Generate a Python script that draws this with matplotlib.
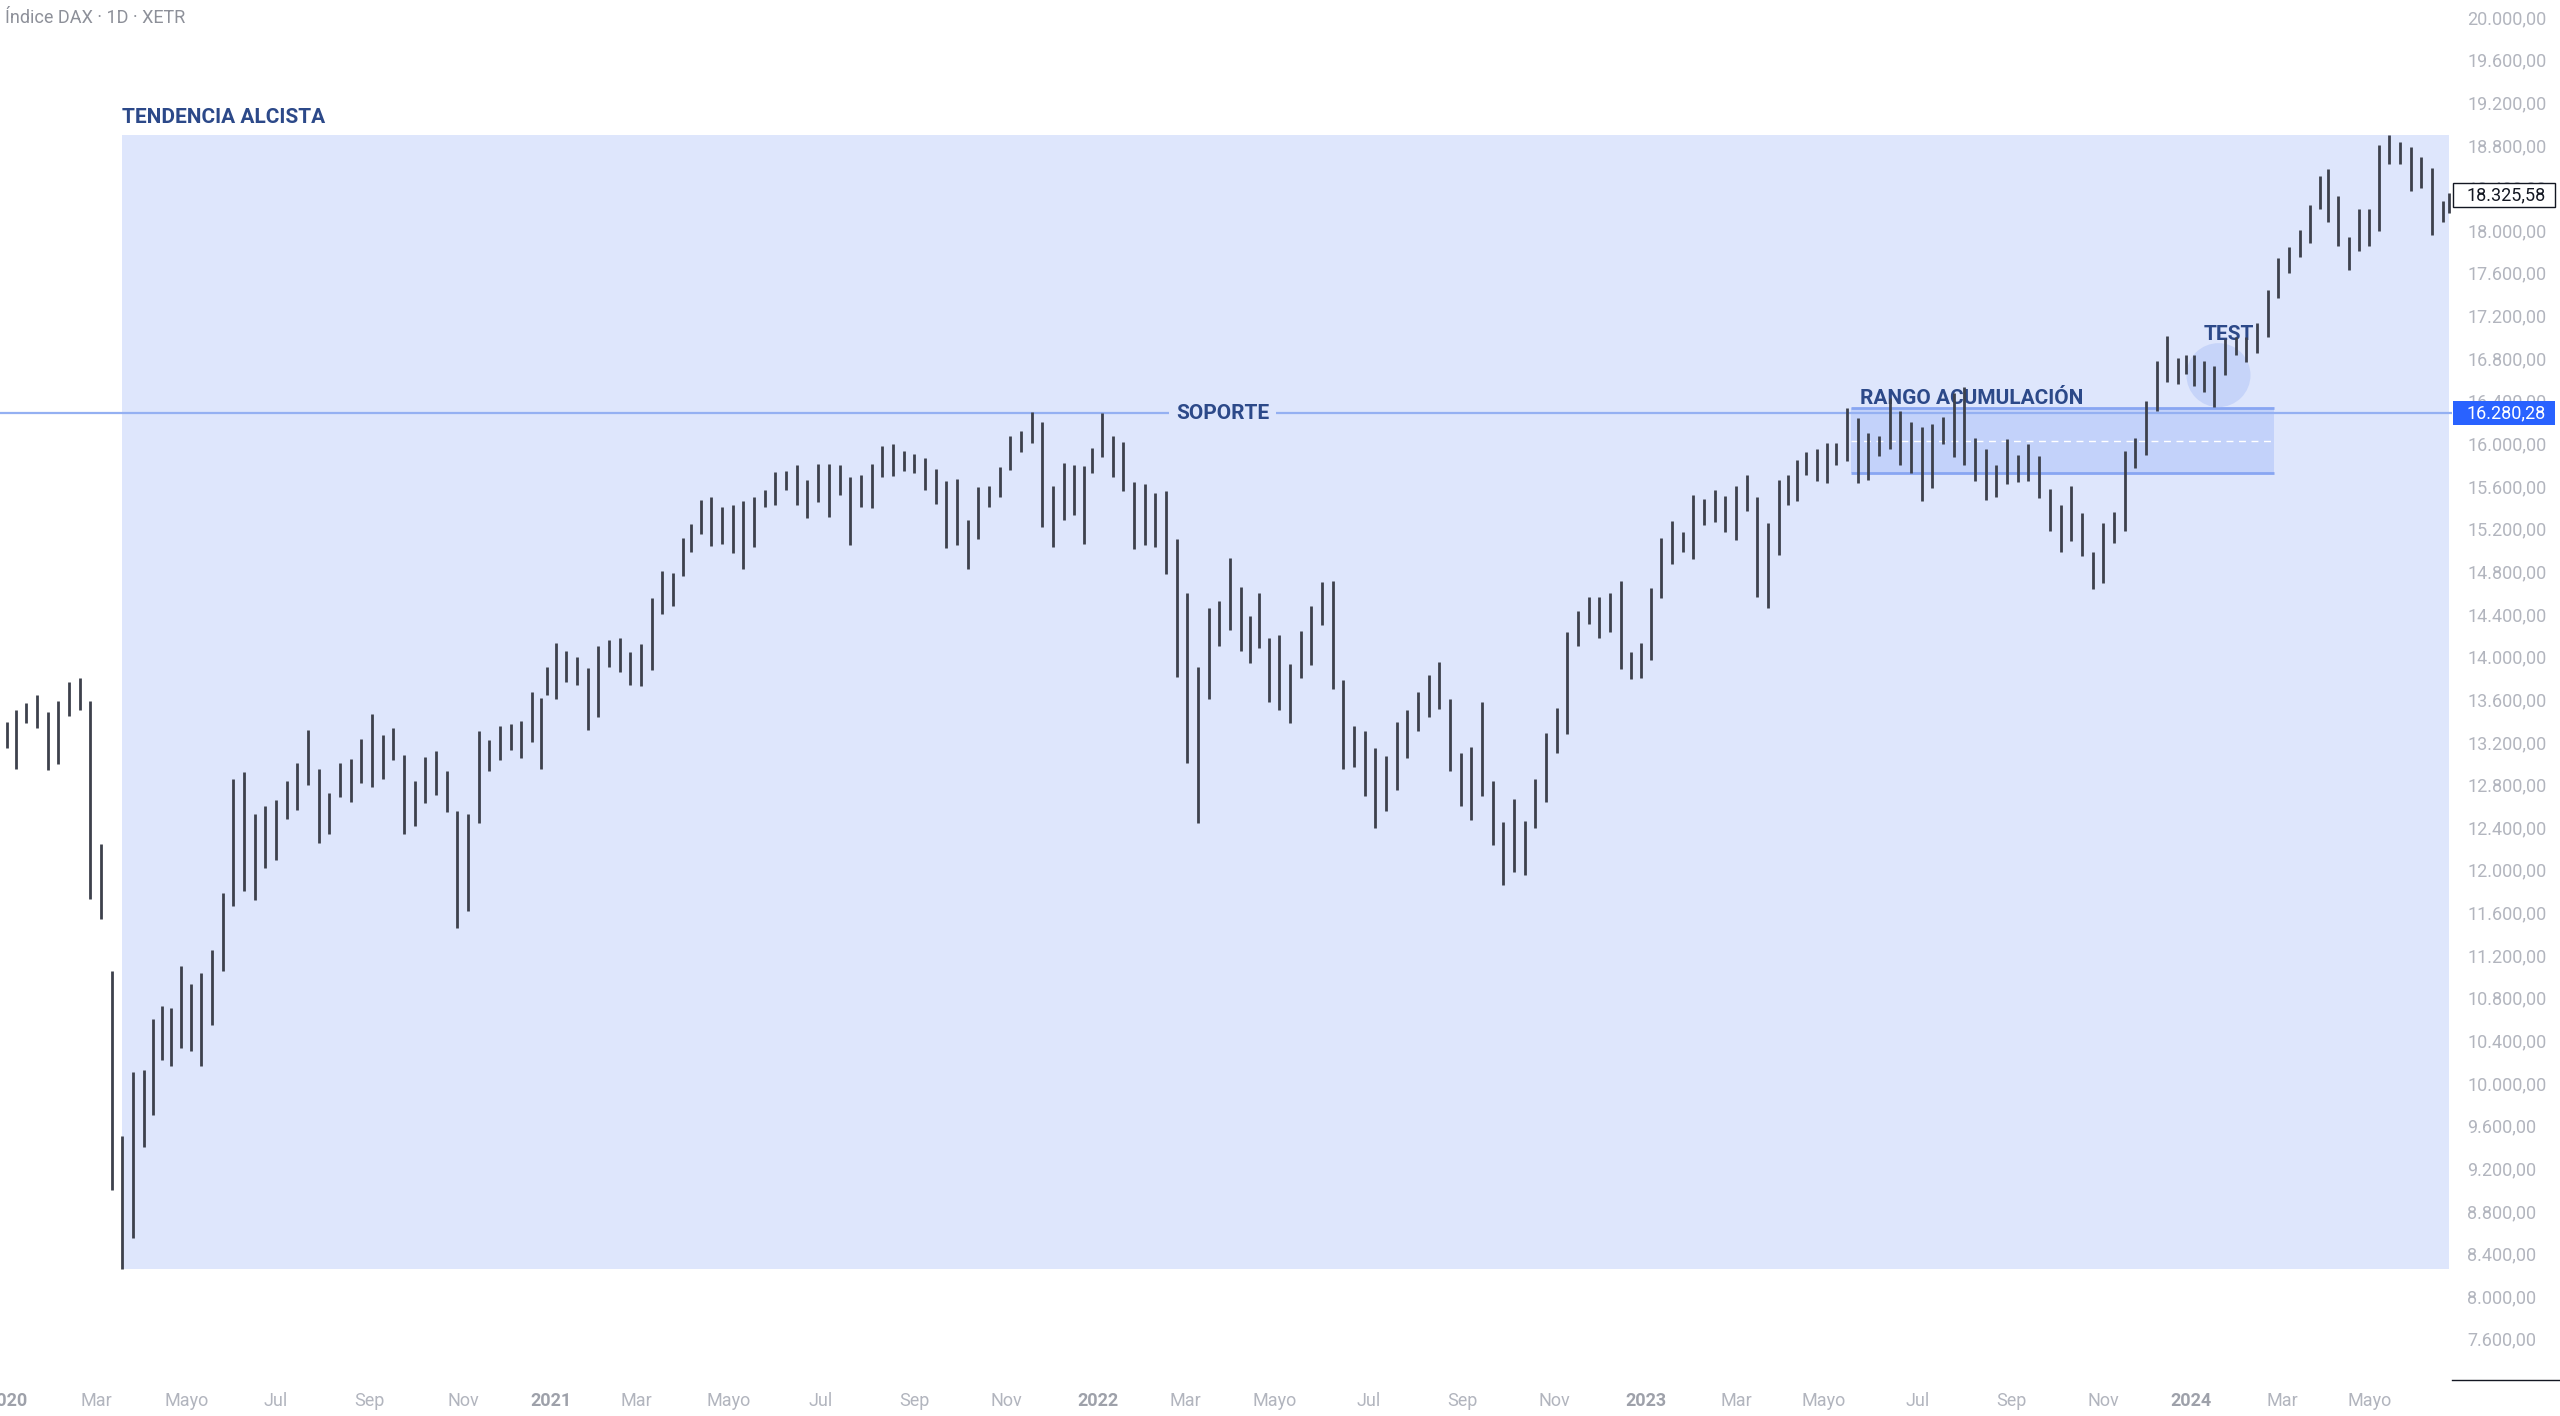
import numpy as np
import pandas as pd
import matplotlib
matplotlib.use("Agg")
import matplotlib.pyplot as plt
import matplotlib.transforms as mtransforms
from matplotlib.patches import Rectangle, Ellipse
from matplotlib.lines import Line2D

plt.rcParams['font.family'] = ['Roboto', 'DejaVu Sans']

# Weekly DAX ranges (week starting on Monday)
FIRST_MONDAY = '2019-12-30'
LAST_DAY = '2024-06-24'

high_2020 = [13390, 13500, 13560, 13640, 13480, 13580, 13760, 13795, 13580, 12240,
             11050, 9500, 10100, 10120, 10600, 10720, 10700, 11100, 10930, 11030,
             11250, 11780, 12850, 12913, 12520, 12600, 12650, 12830, 13000, 13313,
             12950, 12720, 13000, 13040, 13230, 13460, 13260, 13330, 13080, 12830,
             13060, 13110, 12930, 12550, 12520, 13300, 13220, 13350, 13370, 13400,
             13670, 13610, 13900]
low_2020 = [13140, 12950, 13380, 13330, 12940, 12990, 13440, 13500, 11725, 11540,
            9000, 8255, 8550, 9400, 9700, 10220, 10160, 10330, 10300, 10160,
            10540, 11050, 11660, 11800, 11720, 12020, 12090, 12480, 12560, 12800,
            12250, 12340, 12680, 12640, 12810, 12780, 12850, 13030, 12340, 12410,
            12630, 12700, 12540, 11450, 11610, 12440, 12930, 13030, 13120, 13050,
            13200, 12950, 13640]
high_2021 = [14130, 14050, 14000, 13890, 14100, 14160, 14170, 14040, 14120, 14550,
             14800, 14780, 15110, 15240, 15470, 15500, 15400, 15420, 15460, 15500,
             15560, 15730, 15740, 15800, 15660, 15810, 15810, 15800, 15680, 15700,
             15810, 15980, 15990, 15930, 15900, 15860, 15760, 15650, 15670, 15280,
             15590, 15600, 15780, 16070, 16120, 16290, 16200, 15600, 15820, 15800,
             15790, 15960]
low_2021 = [13600, 13760, 13730, 13310, 13430, 13900, 13860, 13730, 13720, 13870,
            14400, 14470, 14760, 14980, 15150, 15040, 15060, 14970, 14820, 15030,
            15400, 15420, 15560, 15420, 15300, 15450, 15310, 15520, 15050, 15400,
            15390, 15680, 15690, 15740, 15720, 15560, 15430, 15020, 15050, 14820,
            15100, 15400, 15500, 15750, 15920, 16000, 15220, 15030, 15280, 15330,
            15060, 15720]
high_2022 = [16285, 16070, 16010, 15640, 15620, 15530, 15550, 15100, 14600, 13900,
             14460, 14520, 14925, 14650, 14380, 14600, 14170, 14200, 13930, 14240,
             14470, 14700, 14710, 13780, 13350, 13300, 13140, 13070, 13390, 13500,
             13670, 13830, 13950, 13600, 13100, 13150, 13570, 12830, 12450, 12660,
             12460, 12850, 13280, 13520, 14230, 14430, 14560, 14560, 14600, 14710,
             14040, 14130]
low_2022 = [15870, 15680, 15550, 15010, 15050, 15030, 14770, 13810, 13000, 12440,
            13600, 14100, 14250, 14050, 13940, 14080, 13570, 13500, 13380, 13800,
            13920, 14300, 13700, 12950, 12960, 12690, 12390, 12550, 12750, 13050,
            13300, 13430, 13510, 12930, 12600, 12470, 12690, 12230, 11862, 11980,
            11950, 12390, 12640, 13100, 13270, 14100, 14310, 14170, 14230, 13880,
            13790, 13800]
high_2023 = [14640, 15110, 15270, 15170, 15520, 15480, 15560, 15510, 15600, 15706,
             15500, 15250, 15660, 15700, 15840, 15920, 15950, 16000, 16000, 16331,
             16240, 16100, 16070, 16427, 16300, 16200, 16150, 16180, 16250, 16470,
             16528, 16050, 15950, 15800, 16040, 15890, 15990, 15880, 15570, 15420,
             15600, 15350, 14980, 15250, 15360, 15930, 16050, 16400, 16770, 17003,
             16800, 16830]
low_2023 = [13970, 14550, 14870, 14980, 14920, 15230, 15260, 15170, 15090, 15370,
            14560, 14458, 14950, 15420, 15460, 15700, 15650, 15630, 15800, 15830,
            15630, 15660, 15880, 15950, 15800, 15720, 15460, 15580, 15990, 15870,
            15800, 15650, 15470, 15500, 15620, 15640, 15650, 15490, 15180, 14980,
            15080, 14940, 14630, 14690, 15070, 15180, 15770, 15890, 16300, 16580,
            16560, 16650]
high_2024 = [16830, 16770, 16730, 16980, 17000, 17000, 17130, 17440, 17740, 17840,
             18000, 18240, 18510, 18570, 18320, 17940, 18200, 18200, 18800, 18893,
             18830, 18780, 18690, 18580, 18270, 18350]
low_2024 = [16540, 16480, 16345, 16640, 16830, 16760, 16850, 17000, 17360, 17600,
            17750, 17880, 18200, 18080, 17850, 17630, 17800, 17850, 17990, 18620,
            18620, 18370, 18400, 17950, 18080, 18160]

week_high = high_2020 + high_2021 + high_2022 + high_2023 + high_2024
week_low = low_2020 + low_2021 + low_2022 + low_2023 + low_2024

# Price levels and drawings
LAST_PRICE = 18325.58
SUPPORT = 16280.28
RANGE_TOP = 16331
RANGE_BOTTOM = 15722
RANGE_START = '2023-05-19'
RANGE_END = '2024-02-26'
TREND_START = '2020-03-18'
TEST_DAY = '2024-01-19'
TEST_PRICE = 16640

# Xetra closing days, the time axis only counts trading days
HOLIDAYS = ['2019-12-24', '2019-12-25', '2019-12-26', '2019-12-31',
            '2020-01-01', '2020-04-10', '2020-04-13', '2020-05-01', '2020-12-24', '2020-12-25', '2020-12-31',
            '2021-01-01', '2021-04-02', '2021-04-05', '2021-12-24', '2021-12-31',
            '2022-04-15', '2022-04-18', '2022-12-26',
            '2023-04-07', '2023-04-10', '2023-05-01', '2023-12-25', '2023-12-26',
            '2024-01-01', '2024-03-29', '2024-04-01', '2024-05-01']
ORIGIN = np.datetime64('2020-01-02', 'D')
MONTH_NAMES = {3: 'Mar', 5: 'Mayo', 7: 'Jul', 9: 'Sep', 11: 'Nov'}

SHADE = '#dee6fc'
TXT = '#2c4989'
GREY = '#b2b5be'
LABEL_SIZE = 15


def tidx(day):
    # trading-day index used as x coordinate
    return float(np.busday_count(ORIGIN, np.datetime64(day, 'D'), holidays=HOLIDAYS))


def es_fmt(v):
    return f"{v:,.2f}".replace(',', 'X').replace('.', ',').replace('X', '.')


def week_positions(n):
    last = np.datetime64(LAST_DAY, 'D')
    xs = []
    for monday in pd.date_range(FIRST_MONDAY, periods=n, freq='W-MON'):
        days = np.arange(np.datetime64(monday.date(), 'D'), np.datetime64(monday.date(), 'D') + 5)
        days = days[(days <= last) & np.is_busday(days, holidays=HOLIDAYS)]
        idx = np.busday_count(ORIGIN, days, holidays=HOLIDAYS)
        xs.append(idx.mean())
    return np.array(xs)


def price_tag(fig, trans, value, face, edge, color, h):
    fig.add_artist(Rectangle((2453 / 2560, value - h / 2), 102 / 2560, h, transform=trans,
                             facecolor=face, edgecolor=edge, linewidth=1, zorder=5))
    fig.text(2467 / 2560, value, es_fmt(value), transform=trans, color=color,
             fontsize=13, ha='left', va='center', zorder=6)


def main():
    fig = plt.figure(figsize=(25.6, 14.16), dpi=100)
    ax = fig.add_axes([0, 1 - 1380 / 1416, 2452 / 2560, 1380 / 1416])
    ax.set_xlim(-3.28, 1145.4)
    ax.set_ylim(7214, 20159)
    for s in ax.spines.values():
        s.set_visible(False)

    xw = week_positions(len(week_high))
    lo_min, hi_max = min(week_low), max(week_high)
    x_trend = tidx(TREND_START)
    x_last = tidx(LAST_DAY)

    # uptrend zone
    ax.add_patch(Rectangle((x_trend, lo_min), x_last - x_trend, hi_max - lo_min,
                           facecolor=SHADE, edgecolor='none', zorder=0))
    ax.text(x_trend, hi_max + 110, 'TENDENCIA ALCISTA', fontsize=LABEL_SIZE, fontweight='bold',
            color=TXT, ha='left', va='baseline')

    # accumulation range
    x0, x1 = tidx(RANGE_START), tidx(RANGE_END)
    ax.add_patch(Rectangle((x0, RANGE_BOTTOM), x1 - x0, RANGE_TOP - RANGE_BOTTOM,
                           facecolor='#c3d2fa', edgecolor='none', zorder=1))
    ax.hlines([RANGE_TOP, RANGE_BOTTOM], x0, x1, colors='#88a6f2', linewidth=2, zorder=1.2)
    ax.hlines((RANGE_TOP + RANGE_BOTTOM) / 2, x0, x1, colors='white', linewidth=1,
              linestyles=(0, (5, 4)), zorder=1.2)
    ax.text(x0 + 4, RANGE_TOP + 40, 'RANGO ACUMULACIÓN', fontsize=LABEL_SIZE, fontweight='bold',
            color=TXT, ha='left', va='baseline', zorder=2.5)

    # retest circle
    xt = tidx(TEST_DAY)
    ax.add_patch(Ellipse((xt, TEST_PRICE), 30, 600, facecolor='#c6d4f9', edgecolor='none', zorder=1.5))
    ax.text(xt + 5, TEST_PRICE + 330, 'TEST', fontsize=LABEL_SIZE, fontweight='bold',
            color=TXT, ha='center', va='baseline', zorder=2.5)

    # support line
    ax.axhline(SUPPORT, color='#94b0f2', linewidth=1.6, zorder=2)
    blend = mtransforms.blended_transform_factory(ax.transAxes, ax.transData)
    ax.text(0.4985, SUPPORT, 'SOPORTE', transform=blend, fontsize=LABEL_SIZE, fontweight='bold',
            color=TXT, ha='center', va='center', zorder=4,
            bbox=dict(facecolor=SHADE, edgecolor='none', pad=5))

    # price bars
    ax.vlines(xw, week_low, week_high, colors='#3d414c', linewidth=2.0, zorder=3)

    # axes ticks
    yt = np.arange(7600, 20001, 400)
    ax.yaxis.tick_right()
    ax.set_yticks(yt)
    ax.set_yticklabels([es_fmt(v) for v in yt])
    ax.tick_params(axis='y', length=0, pad=11, labelsize=13, labelcolor=GREY)

    months = pd.date_range('2020-01-01', '2024-05-01', freq='2MS')
    xt_pos, xt_lab = [], []
    for m in months:
        first = np.busday_offset(np.datetime64(m.date(), 'D'), 0, roll='forward', holidays=HOLIDAYS)
        xt_pos.append(float(np.busday_count(ORIGIN, first, holidays=HOLIDAYS)))
        xt_lab.append(str(m.year) if m.month == 1 else MONTH_NAMES[m.month])
    ax.set_xticks(xt_pos)
    ax.set_xticklabels(xt_lab)
    ax.tick_params(axis='x', length=0, pad=9, labelsize=13, labelcolor=GREY)
    for lab in ax.get_xticklabels():
        if lab.get_text().isdigit():
            lab.set_fontweight('bold')
            lab.set_color('#9ea1aa')

    # price tags on the scale
    trans = mtransforms.blended_transform_factory(fig.transFigure, ax.transData)
    price_tag(fig, trans, LAST_PRICE, 'white', '#131722', '#131722', 225)
    price_tag(fig, trans, SUPPORT, '#2962ff', 'none', 'white', 225)

    fig.add_artist(Line2D([2452 / 2560, 1], [1 - 1380 / 1416] * 2, color='#131722', linewidth=1))
    fig.text(5 / 2560, 1 - 18 / 1416, 'Índice DAX · 1D · XETR', fontsize=13,
             color='#8d9099', ha='left', va='center')

    fig.savefig('out.png', dpi=100, facecolor='white')


if __name__ == "__main__":
    main()
